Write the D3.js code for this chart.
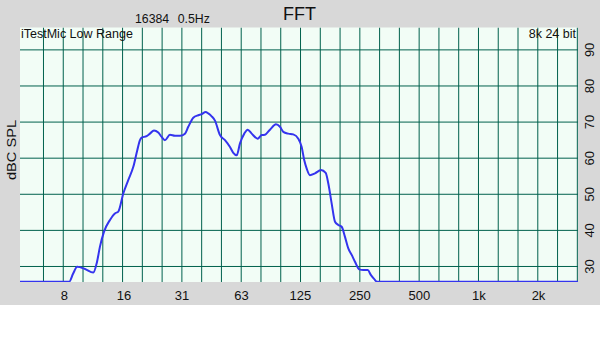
<!DOCTYPE html>
<html>
<head>
<meta charset="utf-8">
<script src="https://cdn.jsdelivr.net/npm/d3@7"></script>
<style>
  body { margin: 0; background: #fff; }
  svg { display: block; font-family: "Liberation Sans", Arial, sans-serif; }
</style>
</head>
<body>
<svg id="fft" width="600" height="338"></svg>
<script>
// spectrum: frequency (Hz) and level (dBC SPL)
const freqs = [4.8, 8.52, 8.89, 9.35, 10.23, 11.27, 11.76, 12.18, 12.76, 13.69, 14.5, 15.08,
  15.98, 16.93, 17.96, 18.81, 19.41, 19.8, 20.98, 21.8, 22.85, 24.02, 24.99, 25.96,
  27.52, 29.17, 30.93, 32.78, 34.06, 36.11, 38.27, 39.82, 41.72, 42.99, 44.73, 46.48,
  49.27, 52.23, 55.37, 57.54, 59.86, 62.21, 65.4, 68.04, 71.29, 76.42, 80.06, 83.2,
  88.21, 94.6, 99.1, 103, 109.2, 115.7, 122.7, 127.6, 131.5, 135.3, 140.5, 149,
  159.8, 168.8, 174, 180.9, 188.1, 195.4, 203.3, 211.3, 219.6, 228.5, 237.4, 249.6,
  261.5, 275.2, 286, 297.2, 306.7, 3187]
const levels = [25.8, 25.8, 27.9, 29.9, 29.3, 28.3, 31.2, 35.5, 39.6, 42.9, 44.7, 45.2,
  50.2, 53.9, 57.6, 62.2, 65.0, 65.7, 66.1, 66.8, 67.7, 67.1, 65.9, 65.0,
  66.5, 66.2, 66.2, 66.8, 68.7, 71.2, 71.9, 72.2, 72.8, 72.4, 71.6, 70.4,
  66.4, 65.0, 63.1, 61.5, 60.8, 64.1, 66.8, 67.9, 66.8, 65.4, 66.4, 66.5,
  67.9, 69.4, 68.7, 67.3, 66.8, 66.6, 65.4, 63.1, 59.4, 57.1, 55.3, 55.8,
  56.7, 55.9, 53.0, 47.5, 42.4, 41.5, 41.0, 38.2, 35.0, 33.2, 31.3, 29.2,
  29.0, 29.0, 27.6, 26.5, 25.8, 25.8]

const xTickValues = [8, 16, 31.5, 63, 125, 250, 500, 1000, 2000]
const xTickLabels = ['8', '16', '31', '63', '125', '250', '500', '1k', '2k']
const yTickValues = [30, 40, 50, 60, 70, 80, 90]
// third-octave grid, 10^(k/10) Hz
const gridSteps = d3.range(8, 36)

const width = 600,
  bandBottom = 305,
  plot = { left: 20, right: 578, top: 27.5, bottom: 282 }

const svg = d3.select('#fft')

const x = d3.scaleLog()
  .domain([4.8, 3187])
  .range([plot.left, plot.right])

const y = d3.scaleLinear()
  .domain([25.7, 96.2])
  .range([plot.bottom, plot.top])

// grey frame
svg.append('rect')
  .attr('width', width).attr('height', bandBottom)
  .attr('fill', '#d8d8d8')

svg.append('rect')
  .attr('x', plot.left).attr('y', plot.top)
  .attr('width', plot.right - plot.left).attr('height', plot.bottom - plot.top)
  .attr('fill', '#f2fdf6')

svg.append('clipPath').attr('id', 'plot-clip')
  .append('rect')
    .attr('x', plot.left).attr('y', plot.top)
    .attr('width', plot.right - plot.left).attr('height', plot.bottom - plot.top)

let grid = svg.append('g')
  .attr('class', 'grid')
  .attr('clip-path', 'url(#plot-clip)')
  .attr('stroke', '#00614d')
  .attr('stroke-width', 1)

grid.selectAll('line.v').data(gridSteps)
  .enter().append('line')
    .attr('class', 'v')
    .attr('x1', k => x(Math.pow(10, k / 10)))
    .attr('x2', k => x(Math.pow(10, k / 10)))
    .attr('y1', plot.top)
    .attr('y2', plot.bottom)

grid.selectAll('line.h').data(yTickValues)
  .enter().append('line')
    .attr('class', 'h')
    .attr('x1', plot.left)
    .attr('x2', plot.right)
    .attr('y1', d => y(d))
    .attr('y2', d => y(d))

// spectrum
const points = freqs.map((f, i) => [f, levels[i]])

const line = d3.line()
  .x(d => x(d[0]))
  .y(d => y(d[1]))
  .curve(d3.curveMonotoneX)

svg.append('path')
  .datum(points)
  .attr('clip-path', 'url(#plot-clip)')
  .attr('fill', 'none')
  .attr('stroke', '#3434ee')
  .attr('stroke-width', 2)
  .attr('d', line)

// x axis labels
const xAxis = d3.axisBottom(x)
  .tickValues(xTickValues)
  .tickFormat((d, i) => xTickLabels[i])
  .tickSize(0)
  .tickPadding(0)

let xg = svg.append('g')
  .attr('transform', `translate(0, ${ plot.bottom })`)
  .call(xAxis)
xg.select('.domain').remove()
xg.selectAll('text')
  .attr('dy', null)
  .attr('y', 18)
  .attr('fill', '#111')
  .style('font-size', '13px')
  .style('font-family', '"Liberation Sans", Arial, sans-serif')

// y labels on the right, turned
svg.append('g')
  .selectAll('text').data(yTickValues)
  .enter().append('text')
    .attr('transform', d => `translate(594, ${ y(d) }) rotate(-90)`)
    .attr('text-anchor', 'middle')
    .attr('fill', '#111')
    .style('font-size', '13px')
    .text(d => d)

svg.append('text')
  .attr('transform', 'translate(15.5, 150) rotate(-90)')
  .attr('text-anchor', 'middle')
  .attr('fill', '#111')
  .style('font-size', '13px')
  .attr('textLength', 60)
  .attr('lengthAdjust', 'spacingAndGlyphs')
  .text('dBC SPL')

// titles
svg.append('text')
  .attr('x', 283).attr('y', 20)
  .attr('fill', '#111')
  .style('font-size', '18px')
  .text('FFT')

svg.append('text')
  .attr('x', 135).attr('y', 23.3)
  .attr('fill', '#111')
  .style('font-size', '12.3px')
  .text('16384')

svg.append('text')
  .attr('x', 177.7).attr('y', 23.3)
  .attr('fill', '#111')
  .style('font-size', '12.3px')
  .text('0.5Hz')

svg.append('text')
  .attr('x', 21).attr('y', 38)
  .attr('fill', '#111')
  .style('font-size', '12.5px')
  .text('iTestMic Low Range')

svg.append('text')
  .attr('x', 576).attr('y', 38)
  .attr('text-anchor', 'end')
  .attr('fill', '#111')
  .style('font-size', '12.5px')
  .text('8k 24 bit')
</script>
</body>
</html>
